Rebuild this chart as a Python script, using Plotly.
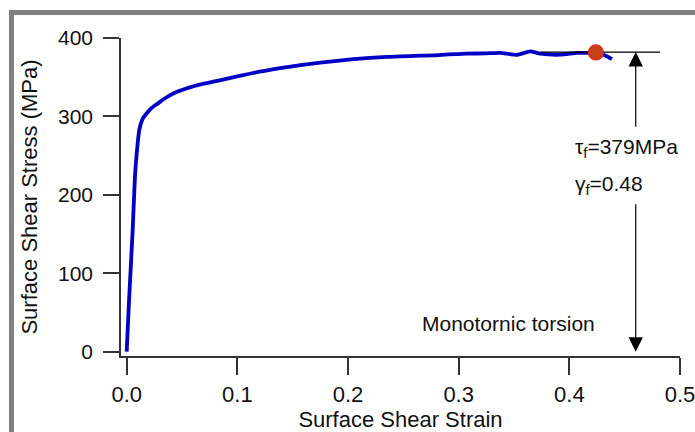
import plotly.graph_objects as go

# ---- data ----
strain = [0, 0.002, 0.0054, 0.0075, 0.0096, 0.0114, 0.0141, 0.0181, 0.0226, 0.0286,
          0.035, 0.045, 0.057, 0.066, 0.084, 0.1, 0.12, 0.145, 0.157, 0.175, 0.205,
          0.235, 0.247, 0.265, 0.277, 0.29, 0.307, 0.325, 0.3375, 0.3526, 0.3646,
          0.3737, 0.3918, 0.407, 0.416, 0.424, 0.4325, 0.4385]
stress = [0, 62, 155, 224, 261, 283, 296, 304, 311, 317,
          323.5, 331, 337, 340.5, 346, 351, 357, 363, 365.5, 368.5, 373,
          376, 376.5, 377.5, 377.8, 379, 380, 380.5, 381, 378.6, 383,
          380, 378.7, 381, 381, 381.6, 377.6, 373]

failure_strain = [0.424]
failure_stress = [381.6]

x_ticks = [0.0, 0.1, 0.2, 0.3, 0.4, 0.5]
x_tick_labels = ["0.0", "0.1", "0.2", "0.3", "0.4", "0.5"]
y_ticks = [0, 100, 200, 300, 400]
y_tick_labels = ["0", "100", "200", "300", "400"]

ref_line_x = [0.374, 0.482]
ref_level = 382
arrow_x = 0.46

FONT = "Liberation Sans, Arial, Helvetica, sans-serif"

fig = go.Figure()
fig.add_trace(go.Scatter(x=strain, y=stress, mode="lines",
                         line=dict(color="#0000C4", width=3.8, shape="spline", smoothing=0.5),
                         showlegend=False))
# horizontal reference line at failure level
fig.add_trace(go.Scatter(x=ref_line_x, y=[ref_level, ref_level], mode="lines",
                         line=dict(color="black", width=1.3), showlegend=False))
fig.add_trace(go.Scatter(x=failure_strain, y=failure_stress, mode="markers",
                         marker=dict(size=15, color="#C8401A", line=dict(color="#E52A1E", width=1.2)),
                         showlegend=False))

# arrows
fig.add_annotation(x=arrow_x, y=ref_level, ax=arrow_x, ay=285, xref="x", yref="y",
                   axref="x", ayref="y", showarrow=True, arrowhead=2, arrowsize=2.4,
                   arrowwidth=1.2, arrowcolor="black", standoff=0, text="")
fig.add_annotation(x=arrow_x, y=0, ax=arrow_x, ay=190, xref="x", yref="y",
                   axref="x", ayref="y", showarrow=True, arrowhead=2, arrowsize=2.4,
                   arrowwidth=1.2, arrowcolor="black", standoff=0, text="")

fig.add_annotation(x=0.4035, y=260, xref="x", yref="y", xanchor="left", yanchor="middle",
                   text="τ<sub>f</sub>=379MPa", showarrow=False,
                   font=dict(family=FONT, size=21, color="#111"))
fig.add_annotation(x=0.4035, y=212, xref="x", yref="y", xanchor="left", yanchor="middle",
                   text="γ<sub>f</sub>=0.48", showarrow=False,
                   font=dict(family=FONT, size=21, color="#111"))
fig.add_annotation(x=0.345, y=36, xref="x", yref="y", xanchor="center", yanchor="middle",
                   text="Monotornic torsion", showarrow=False,
                   font=dict(family=FONT, size=21, color="#111"))

# gray frame (top and left)
fig.add_shape(type="rect", xref="paper", yref="paper", x0=-0.2004, x1=1.03, y0=1.0723, y1=1.0881,
              fillcolor="#808080", line=dict(width=0), layer="below")
fig.add_shape(type="rect", xref="paper", yref="paper", x0=-0.2004, x1=-0.1914, y0=-0.25, y1=1.0881,
              fillcolor="#808080", line=dict(width=0), layer="below")

fig.update_layout(
    width=695, height=432,
    margin=dict(l=121, r=15, t=38, b=76, autoexpand=False),
    paper_bgcolor="white", plot_bgcolor="white",
    font=dict(family=FONT, color="#111"),
    xaxis=dict(range=[-0.00515, 0.5], tickvals=x_ticks, ticktext=x_tick_labels,
               automargin=False,
               showgrid=False, zeroline=False, showline=True, linecolor="#333", linewidth=1.5,
               ticks="outside", ticklen=17, tickwidth=1.5, tickcolor="#333",
               ticklabeloverflow="allow", ticklabelstandoff=1,
               tickfont=dict(family=FONT, size=22, color="#111"),
               title=dict(text="Surface Shear Strain", font=dict(family=FONT, size=22, color="#111"),
                          standoff=10)),
    yaxis=dict(range=[-5.5, 400], tickvals=y_ticks, ticktext=y_tick_labels,
               automargin=False,
               showgrid=False, zeroline=False, showline=True, linecolor="#333", linewidth=1.5,
               ticks="outside", ticklen=16, tickwidth=1.5, tickcolor="#333",
               ticklabelstandoff=6,
               tickfont=dict(family=FONT, size=21, color="#111"),
               title=dict(text="Surface Shear Stress (MPa)", font=dict(family=FONT, size=22, color="#111"),
                          standoff=14)),
)

fig.write_html("out.html")
